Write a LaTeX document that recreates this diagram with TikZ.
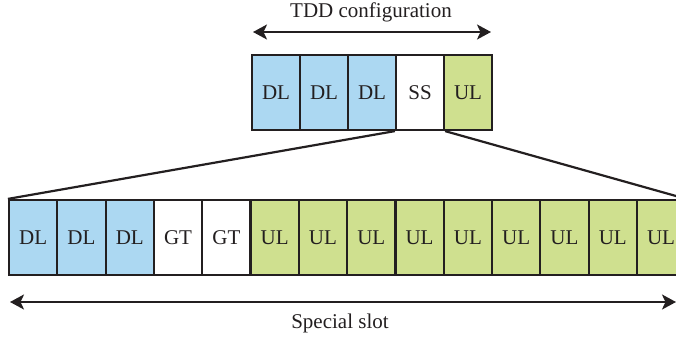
\documentclass[tikz,border=0pt]{standalone}
\usepackage{fontspec}
\setmainfont{Liberation Serif}
\usetikzlibrary{arrows.meta}
\definecolor{dlblue}{RGB}{172,216,242}
\definecolor{ulgreen}{RGB}{207,224,143}
\definecolor{ink}{RGB}{35,31,32}
\tikzset{
  cell/.style={draw=ink, line width=2.2pt, minimum height=75pt, inner sep=0pt, text=ink,
    font=\fontsize{21}{25}\selectfont},
  topcell/.style={cell, minimum width=48pt},
  botcell/.style={cell, minimum width=48.3pt},
  dl/.style={fill=dlblue},
  ul/.style={fill=ulgreen},
  wh/.style={fill=white},
  span/.style={draw=ink, line width=2pt, {Stealth[length=14pt,width=15pt,inset=3.5pt]}-{Stealth[length=14pt,width=15pt,inset=3.5pt]}},
  funnel/.style={draw=ink, line width=2.2pt},
  lbl/.style={text=ink, font=\fontsize{21}{25}\selectfont, inner sep=0pt}
}
\begin{document}
\begin{tikzpicture}[x=1pt,y=-1pt]
\useasboundingbox (0,0) rectangle (676,338);
\clip (0,0) rectangle (676,338);
% top row
\node[topcell,dl] (t1) at (276,92.5) {DL};
\node[topcell,dl] (t2) at (324,92.5) {DL};
\node[topcell,dl] (t3) at (372,92.5) {DL};
\node[topcell,wh] (t4) at (420,92.5) {SS};
\node[topcell,ul] (t5) at (468,92.5) {UL};
% bottom row
\foreach \i/\t/\s in {1/DL/dl,2/DL/dl,3/DL/dl,4/GT/wh,5/GT/wh,6/UL/ul,7/UL/ul,8/UL/ul,9/UL/ul,10/UL/ul,11/UL/ul,12/UL/ul,13/UL/ul,14/UL/ul}{
  \node[botcell,\s] (b\i) at ({9+24.15+48.3*(\i-1)},237.5) {\t};
}
% funnel
\draw[funnel] (t4.south west) -- (b1.north west);
\draw[funnel] (t4.south east) -- (b14.north east);
% arrows
\coordinate (tl) at (253,32);
\coordinate (tr) at (491,32);
\draw[span] (tl) -- (tr);
\node[lbl] (tdd) at (371,12) {TDD configuration};
\coordinate (sl) at (10,302);
\coordinate (sr) at (676,302);
\draw[span] (sl) -- (sr);
\node[lbl] (ss) at (340,323) {Special slot};
\end{tikzpicture}
\end{document}
